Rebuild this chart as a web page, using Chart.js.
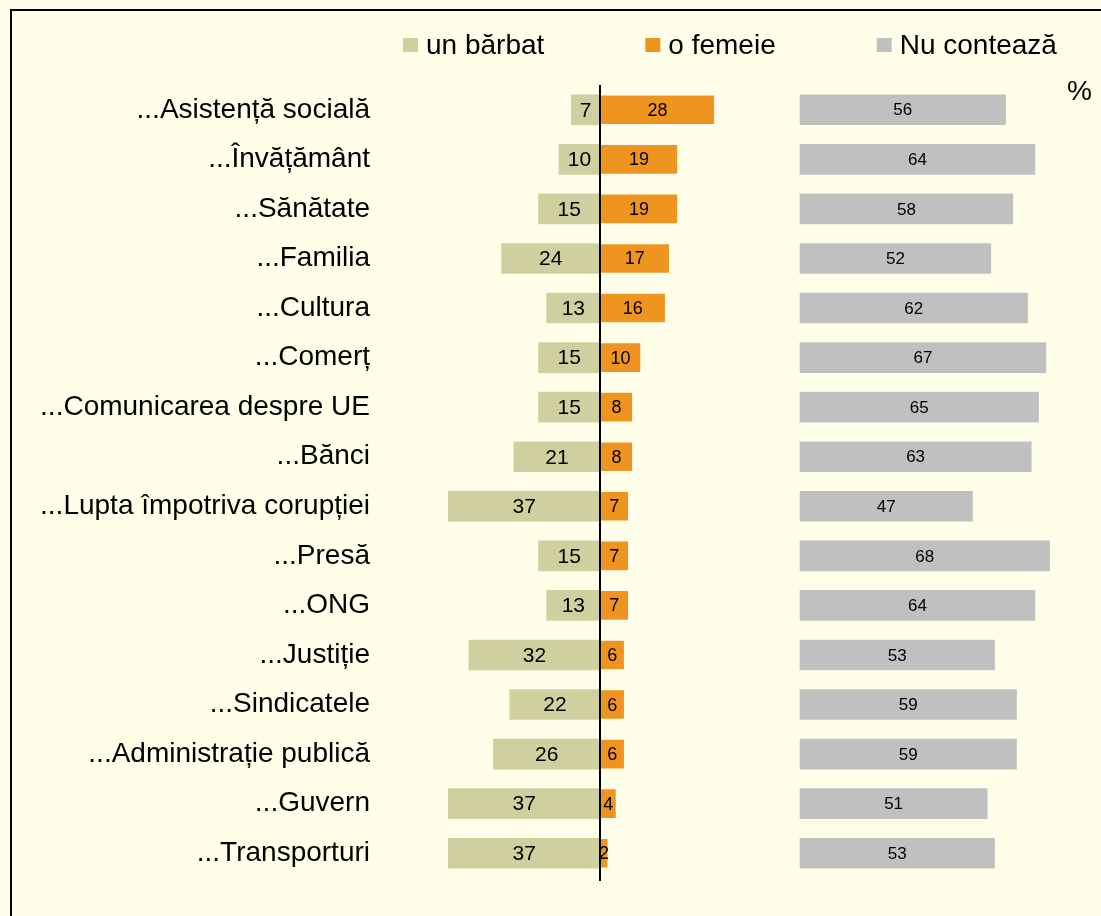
<!DOCTYPE html>
<html>
<head>
<meta charset="utf-8">
<script src="https://cdn.jsdelivr.net/npm/chart.js@4"></script>
<style>
  html, body { margin: 0; padding: 0; background: #FFFFE9; }
  #wrap { position: relative; width: 1101px; height: 916px; overflow: hidden; }
  #frame { position: absolute; left: 10px; top: 9px; right: -10px; bottom: -10px;
           border-left: 2px solid #000; border-top: 2px solid #000; }
  canvas { position: absolute; left: 0; top: 0; }
</style>
</head>
<body>
<div id="wrap">
  <div id="frame"></div>
  <canvas id="chart" width="1101" height="916"></canvas>
</div>
<script>
const categories = [
  '...Asistență socială', '...Învățământ', '...Sănătate', '...Familia', '...Cultura',
  '...Comerț', '...Comunicarea despre UE', '...Bănci', '...Lupta împotriva corupției',
  '...Presă', '...ONG', '...Justiție', '...Sindicatele', '...Administrație publică',
  '...Guvern', '...Transporturi'
];
const barbat = [7, 10, 15, 24, 13, 15, 15, 21, 37, 15, 13, 32, 22, 26, 37, 37];
const femeie = [28, 19, 19, 17, 16, 10, 8, 8, 7, 7, 7, 6, 6, 6, 4, 2];
const nuConteaza = [56, 64, 58, 52, 62, 67, 65, 63, 47, 68, 64, 53, 59, 59, 51, 53];
const seriesNames = ['un bărbat', 'o femeie', 'Nu contează'];
const colors = ['#D0CFA0', '#EE941F', '#C0C0C0'];

const FONT = '"Liberation Sans", Arial, sans-serif';

// plot area and the two scales
const areaLeft = 380, areaRight = 1100;
const zeroX = 600, pxPerUnit = 4.1;
const zeroX2 = 800, pxPerUnit2 = 3.67;

const valueLabels = {
  id: 'valueLabels',
  afterDatasetsDraw(chart) {
    const ctx = chart.ctx;
    const sizes = [21, 18, 17];
    ctx.save();
    ctx.fillStyle = '#000';
    ctx.textAlign = 'center';
    ctx.textBaseline = 'middle';
    chart.data.datasets.forEach((ds, i) => {
      ctx.font = sizes[i] + 'px ' + FONT;
      chart.getDatasetMeta(i).data.forEach((el, j) => {
        const v = Math.abs(ds.data[j]);
        ctx.fillText(String(v), (el.x + el.base) / 2, el.y + 1);
      });
    });
    // zero line
    const x0 = Math.round(chart.scales.x.getPixelForValue(0));
    ctx.strokeStyle = '#000';
    ctx.lineWidth = 2;
    ctx.beginPath();
    ctx.moveTo(x0, chart.chartArea.top);
    ctx.lineTo(x0, chart.chartArea.bottom + 3);
    ctx.stroke();
    ctx.restore();
  }
};

const legendDraw = {
  id: 'legendDraw',
  afterDraw(chart) {
    const ctx = chart.ctx;
    ctx.save();
    ctx.font = '28px ' + FONT;
    ctx.textBaseline = 'middle';
    ctx.textAlign = 'left';
    let x = 403;
    chart.data.datasets.forEach((ds, i) => {
      ctx.fillStyle = ds.backgroundColor;
      ctx.fillRect(x, 38, 15, 14);
      ctx.fillStyle = '#000';
      ctx.fillText(ds.label, x + 23, 46);
      x += 23 + ctx.measureText(ds.label).width + 101;
    });
    ctx.fillText('%', 1067, 92);
    ctx.restore();
  }
};

new Chart(document.getElementById('chart'), {
  type: 'bar',
  data: {
    labels: categories,
    datasets: [
      { label: seriesNames[0], data: barbat.map(v => -v), backgroundColor: colors[0], xAxisID: 'x' },
      { label: seriesNames[1], data: femeie, backgroundColor: colors[1], xAxisID: 'x',
        borderColor: 'rgba(255,255,255,0.7)', borderWidth: 1, borderSkipped: 'start' },
      { label: seriesNames[2], data: nuConteaza, backgroundColor: colors[2], xAxisID: 'x2' }
    ]
  },
  options: {
    indexAxis: 'y',
    responsive: false,
    animation: false,
    datasets: { bar: { grouped: false, barThickness: 30 } },
    layout: { padding: { left: 0, right: 1101 - areaRight, top: 85, bottom: 38 } },
    scales: {
      y: {
        type: 'category',
        offset: true,
        grid: { display: false, drawTicks: false },
        border: { display: false },
        ticks: { color: '#000', font: { family: FONT, size: 28 }, padding: 10 },
        afterFit(scale) { scale.width = areaLeft; }
      },
      x: {
        display: false,
        min: -(zeroX - areaLeft) / pxPerUnit,
        max: (areaRight - zeroX) / pxPerUnit
      },
      x2: {
        display: false,
        position: 'bottom',
        min: -(zeroX2 - areaLeft) / pxPerUnit2,
        max: (areaRight - zeroX2) / pxPerUnit2
      }
    },
    plugins: {
      legend: { display: false },
      tooltip: { enabled: false }
    }
  },
  plugins: [valueLabels, legendDraw]
});
</script>
</body>
</html>
